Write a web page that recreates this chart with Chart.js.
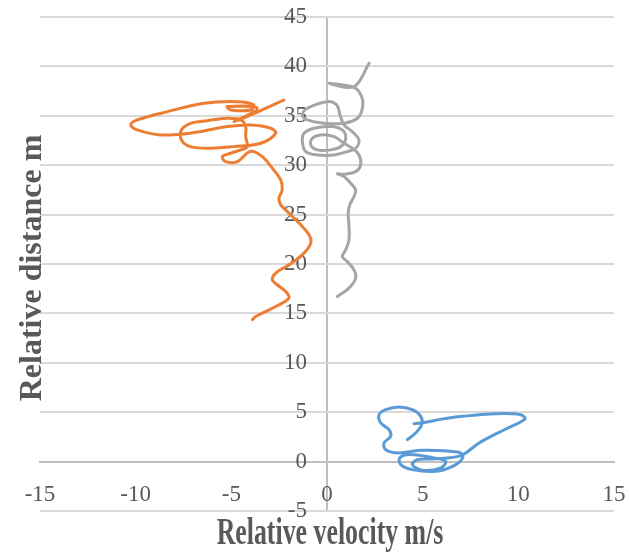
<!DOCTYPE html>
<html>
<head>
<meta charset="utf-8">
<script src="https://cdn.jsdelivr.net/npm/chart.js@4/dist/chart.umd.min.js"></script>
<style>
  body { margin: 0; background: #fff; }
  #wrap { width: 629px; height: 557px; }
</style>
</head>
<body>
<div id="wrap"><canvas id="chart"></canvas></div>
<script>
const xTicks = [-15, -10, -5, 0, 5, 10, 15];
const yTicks = [-5, 0, 5, 10, 15, 20, 25, 30, 35, 40, 45];

// blue
const blueVelocity = [4.20, 4.63, 4.95, 4.90, 4.46, 3.76, 3.07, 2.72, 2.81, 3.24, 3.33, 2.98, 3.07, 3.76, 4.98, 6.90, 7.11, 6.64, 5.68, 4.46, 3.85, 3.80, 4.29, 5.33, 6.20, 5.94, 4.98, 4.46, 4.72, 5.51, 6.99, 7.95, 9.34, 10.35, 10.12, 8.82, 7.07, 5.85, 5.16, 4.55];
const blueDistance = [2.22, 2.90, 3.74, 4.58, 5.26, 5.53, 5.26, 4.75, 3.91, 3.24, 2.56, 1.89, 1.21, 0.88, 1.15, 0.94, 0.47, -0.40, -0.98, -0.81, -0.30, 0.37, 0.71, 0.47, 0.03, -0.64, -0.88, -0.30, 0.20, 0.27, 0.61, 1.89, 3.30, 4.31, 4.75, 4.85, 4.58, 4.25, 3.98, 3.84];

// orange
const orangeVelocity = [-3.90, -3.73, -2.68, -1.99, -2.16, -2.60, -2.86, -2.68, -1.99, -1.29, -0.85, -0.94, -1.46, -1.99, -2.42, -2.51, -2.34, -2.42, -2.86, -3.38, -4.00, -4.69, -5.30, -5.47, -5.03, -4.51, -4.17, -4.25, -4.25, -4.51, -5.21, -6.26, -7.13, -7.61, -7.61, -7.13, -6.08, -4.86, -3.47, -2.68, -2.94, -3.99, -5.21, -6.95, -8.69, -9.92, -10.26, -9.92, -8.35, -6.43, -4.69, -3.82, -3.99, -5.03, -5.21, -3.64, -4.86, -3.47, -2.25];
const orangeDistance = [14.36, 14.69, 15.70, 16.55, 17.22, 17.90, 18.40, 19.08, 19.92, 20.93, 22.11, 22.95, 24.14, 25.15, 25.99, 26.66, 27.50, 28.51, 29.70, 30.87, 31.40, 30.36, 30.36, 30.87, 31.21, 31.55, 31.88, 32.90, 33.91, 34.58, 34.75, 34.51, 34.24, 33.57, 32.56, 31.88, 31.72, 31.88, 32.22, 33.23, 33.74, 34.07, 33.91, 33.30, 33.06, 33.57, 34.07, 34.58, 35.42, 36.27, 36.43, 36.10, 35.59, 35.59, 35.93, 35.76, 34.41, 35.53, 36.60];

// gray
const grayVelocity = [2.20, 1.41, 0.10, 1.41, 1.81, 1.85, 1.59, 0.89, -0.16, -1.03, -1.29, -1.03, 0.02, 0.51, 0.68, 0.89, 1.32, 1.67, 1.50, 1.06, 0.37, -0.51, -1.11, -1.29, -1.20, -0.68, 0.19, 0.80, 0.98, 0.72, 0.19, -0.51, -0.85, -0.77, -0.33, 0.37, 0.89, 1.32, 1.67, 1.76, 1.50, 0.89, 0.54, 0.89, 1.24, 1.50, 1.41, 1.19, 1.11, 1.15, 1.15, 0.98, 0.80, 1.06, 1.41, 1.50, 1.15, 0.54];
const grayDistance = [40.31, 37.95, 38.29, 37.88, 36.94, 35.76, 34.75, 34.25, 34.25, 34.58, 35.09, 35.76, 36.43, 36.10, 35.09, 34.07, 33.40, 32.56, 31.72, 31.38, 31.04, 31.04, 31.38, 32.39, 33.24, 33.74, 33.91, 33.57, 32.73, 31.89, 31.55, 31.55, 32.05, 32.73, 33.06, 32.90, 32.22, 31.72, 31.04, 30.03, 29.35, 29.09, 29.12, 28.85, 28.18, 27.50, 26.83, 25.99, 25.15, 23.79, 22.45, 21.44, 20.76, 20.25, 19.41, 18.57, 17.56, 16.71];

const font = '"Liberation Serif", "Times New Roman", serif';
const textColor = '#595959';

function points(xs, ys) {
  return xs.map((v, i) => ({ x: v, y: ys[i] }));
}

function series(label, xs, ys, color) {
  return {
    label: label,
    data: points(xs, ys),
    showLine: true,
    borderColor: color,
    backgroundColor: color,
    borderWidth: 3,
    pointRadius: 0,
    tension: 0.35,
    borderCapStyle: 'round',
    borderJoinStyle: 'round'
  };
}

// axis titles drawn by hand, the x one is squeezed like in the source image
const axisTitles = {
  id: 'axisTitles',
  afterDraw(chart) {
    const ctx = chart.ctx;
    ctx.save();
    ctx.fillStyle = textColor;
    ctx.textAlign = 'center';
    ctx.textBaseline = 'alphabetic';
    ctx.font = 'bold 38px ' + font;
    ctx.translate(330, 544);
    ctx.scale(0.68, 1);
    ctx.fillText('Relative velocity m/s', 0, 0);
    ctx.restore();

    ctx.save();
    ctx.fillStyle = textColor;
    ctx.textAlign = 'center';
    ctx.textBaseline = 'alphabetic';
    ctx.font = 'bold 32px ' + font;
    ctx.translate(41, 268);
    ctx.rotate(-Math.PI / 2);
    ctx.fillText('Relative distance m', 0, 0);
    ctx.restore();
  }
};

const ctx = document.querySelector('#chart').getContext('2d');
new Chart(ctx, {
  type: 'scatter',
  data: {
    datasets: [
      series('Series1', blueVelocity, blueDistance, '#5B9BD5'),
      series('Series2', orangeVelocity, orangeDistance, '#ED7D31'),
      series('Series3', grayVelocity, grayDistance, '#A5A5A5')
    ]
  },
  options: {
    responsive: true,
    maintainAspectRatio: false,
    animation: false,
    layout: {
      padding: { left: 40, right: 15, top: 17, bottom: 46 }
    },
    plugins: {
      legend: { display: false },
      tooltip: { enabled: false }
    },
    scales: {
      x: {
        type: 'linear',
        min: -15,
        max: 15,
        position: { y: 0 },
        afterBuildTicks: s => { s.ticks = xTicks.map(v => ({ value: v })); },
        afterFit: s => { s.height = 0; s.paddingLeft = 0; s.paddingRight = 0; },
        ticks: {
          padding: 20,
          color: textColor,
          autoSkip: false,
          maxRotation: 0,
          font: { family: font, size: 23 }
        },
        grid: {
          drawTicks: false,
          lineWidth: 2,
          color: c => (c.tick && c.tick.value === 0) ? '#bfbfbf' : 'rgba(0,0,0,0)'
        },
        border: { display: true, color: '#bfbfbf', width: 2 }
      },
      y: {
        type: 'linear',
        min: -5,
        max: 45,
        position: { x: -1.05 },
        afterBuildTicks: s => { s.ticks = yTicks.map(v => ({ value: v })); },
        afterFit: s => { s.width = 0; s.paddingTop = 0; s.paddingBottom = 0; },
        ticks: {
          color: textColor,
          autoSkip: false,
          font: { family: font, size: 23 }
        },
        grid: {
          drawTicks: false,
          lineWidth: 2,
          color: '#d9d9d9'
        },
        border: { display: false }
      }
    }
  },
  plugins: [axisTitles]
});
</script>
</body>
</html>
